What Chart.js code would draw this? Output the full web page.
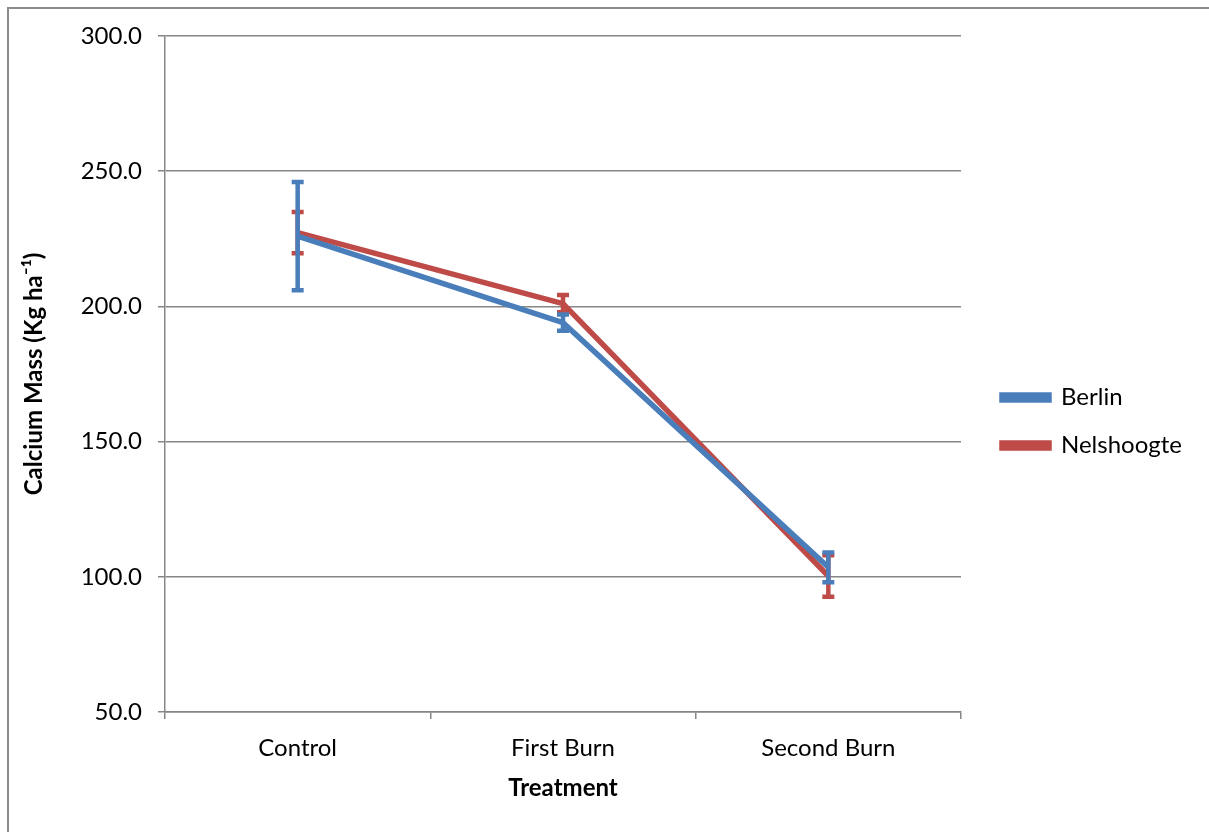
<!DOCTYPE html>
<html>
<head>
<meta charset="utf-8">
<title>Calcium Mass</title>
<script src="https://cdn.jsdelivr.net/npm/chart.js@4.4.0/dist/chart.umd.min.js"></script>
<style>
  html, body { margin: 0; padding: 0; background: #fff; overflow: hidden; }
  #frame { position: absolute; left: 7px; top: 7px; width: 1400px; height: 1000px; border: 2px solid #8c8c8c; }
  #chartCanvas { position: absolute; left: 0; top: 0; }
</style>
</head>
<body>
<div id="frame"></div>
<canvas id="chartCanvas" width="1209" height="832"></canvas>
<script>
// data
var treatments = ['Control', 'First Burn', 'Second Burn'];
var berlin = [226.0, 194.0, 103.5];
var berlinErr = [20.0, 3.0, 5.5];
var nelshoogte = [227.3, 201.0, 100.3];
var nelshoogteErr = [7.6, 3.2, 7.7];
var yTicks = [50, 100, 150, 200, 250, 300];

var errorBars = {
    id: 'errorBars',
    afterDatasetDraw: function (chart, args) {
        var ds = chart.data.datasets[args.index];
        var meta = args.meta;
        var y = chart.scales.y;
        var ctx = chart.ctx;
        ctx.save();
        ctx.strokeStyle = ds.borderColor;
        ctx.lineWidth = 4.5;
        meta.data.forEach(function (pt, i) {
            var v = ds.data[i], e = ds.errors[i];
            var top = y.getPixelForValue(v + e);
            var bot = y.getPixelForValue(v - e);
            ctx.beginPath();
            ctx.moveTo(pt.x, top); ctx.lineTo(pt.x, bot);
            ctx.moveTo(pt.x - 6, top); ctx.lineTo(pt.x + 6, top);
            ctx.moveTo(pt.x - 6, bot); ctx.lineTo(pt.x + 6, bot);
            ctx.stroke();
        });
        ctx.restore();
    }
};

// keep the legend column a fixed width, with the entries a bit in from its left edge
var legendPlace = {
    id: 'legendPlace',
    beforeLayout: function (chart) {
        var lg = chart.legend;
        if (lg && !lg._fixed) {
            var fit = lg.fit;
            lg.fit = function () { fit.call(this); this.width = 248; };
            lg._fixed = true;
        }
    },
    afterLayout: function (chart) {
        chart.legend.left += 17;
        chart.legend.right += 17;
    }
};

var font = "Lato, 'Open Sans', sans-serif";

new Chart(document.getElementById('chartCanvas'), {
    type: 'line',
    data: {
        labels: treatments,
        datasets: [
            {
                label: 'Berlin',
                data: berlin,
                errors: berlinErr,
                borderColor: '#4a7ebb',
                backgroundColor: '#4a7ebb',
                borderWidth: 5.5,
                pointRadius: 0,
                tension: 0
            },
            {
                label: 'Nelshoogte',
                data: nelshoogte,
                errors: nelshoogteErr,
                borderColor: '#be4b48',
                backgroundColor: '#be4b48',
                borderWidth: 5.5,
                pointRadius: 0,
                tension: 0
            }
        ]
    },
    options: {
        responsive: false,
        animation: false,
        layout: { padding: { left: 16, top: 36, right: 0, bottom: 25 } },
        plugins: {
            tooltip: { enabled: false },
            legend: {
                position: 'right',
                align: 'center',
                labels: {
                    color: '#000',
                    font: { family: font, size: 24 },
                    boxWidth: 47,
                    boxHeight: 5,
                    padding: 24
                }
            }
        },
        scales: {
            x: {
                offset: true,
                grid: { offset: true, drawOnChartArea: false, tickLength: 7, color: '#868686', lineWidth: 1.5 },
                border: { color: '#868686', width: 1.5 },
                ticks: { color: '#000', font: { family: font, size: 24 }, padding: 15 },
                title: { display: true, text: 'Treatment', color: '#000', font: { family: font, size: 24, weight: 'bold' } },
                afterFit: function (s) { s.height = 95; }
            },
            y: {
                min: 50,
                max: 300,
                afterBuildTicks: function (s) { s.ticks = yTicks.map(function (v) { return { value: v }; }); },
                grid: { color: '#868686', lineWidth: 1.5, tickLength: 7 },
                border: { color: '#868686', width: 1.5 },
                ticks: { color: '#000', font: { family: font, size: 24 }, padding: 16,
                    callback: function (v) { return Number(v).toFixed(1); } },
                title: { display: true, text: 'Calcium Mass (Kg ha\u207B\u00B9)', color: '#000', font: { family: font, size: 24, weight: 'bold' } },
                afterFit: function (s) { s.width = 149; }
            }
        }
    },
    plugins: [errorBars, legendPlace]
});
</script>
</body>
</html>
